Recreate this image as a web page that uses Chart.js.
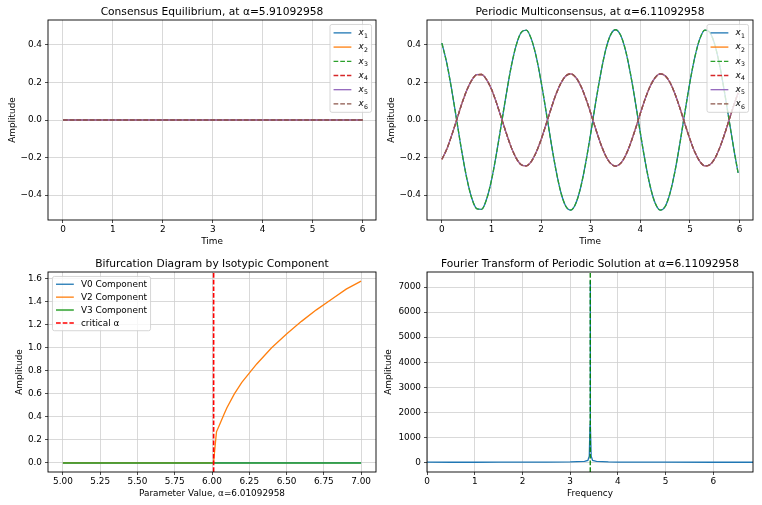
<!DOCTYPE html>
<html lang="en">
<head>
<meta charset="UTF-8">
<title>Isotypic Bifurcation</title>
<script src="https://cdn.jsdelivr.net/npm/chart.js"></script>
<style>
  body { margin: 0; background: #fff; }
  #fig { position: relative; width: 762px; height: 505px; }
  canvas { position: absolute; }
</style>
</head>
<body>
<div id="fig">
  <canvas id="consensus" width="381" height="252" style="left:0;top:0"></canvas>
  <canvas id="periodic" width="381" height="252" style="left:381px;top:0"></canvas>
  <canvas id="bifurcation" width="381" height="253" style="left:0;top:252px"></canvas>
  <canvas id="fourier" width="381" height="253" style="left:381px;top:252px"></canvas>
</div>
<script>
// --- data ---
const consensusTime = [0, 1, 2, 3, 4, 5, 6];
const consensusState = [0, 0, 0, 0, 0, 0, 0];

const periodicTime = [0.0, 0.1, 0.2, 0.3, 0.4, 0.5, 0.6, 0.7, 0.8, 0.9,
  1.0, 1.1, 1.2, 1.3, 1.4, 1.5, 1.6, 1.7, 1.8, 1.9,
  2.0, 2.1, 2.2, 2.3, 2.4, 2.5, 2.6, 2.7, 2.8, 2.9,
  3.0, 3.1, 3.2, 3.3, 3.4, 3.5, 3.6, 3.7, 3.8, 3.9,
  4.0, 4.1, 4.2, 4.3, 4.4, 4.5, 4.6, 4.7, 4.8, 4.9,
  5.0, 5.1, 5.2, 5.3, 5.4, 5.5, 5.6, 5.7, 5.8, 5.9, 5.97];
// x1 and x3 coincide
const periodicX1 = [0.409, 0.301, 0.157, -0.004, -0.166, -0.308, -0.414, -0.471, -0.475, -0.422,
  -0.320, -0.179, -0.020, 0.141, 0.288, 0.400, 0.466, 0.478, 0.433, 0.338,
  0.203, 0.045, -0.118, -0.268, -0.387, -0.460, -0.479, -0.443, -0.355, -0.226,
  -0.070, 0.094, 0.246, 0.372, 0.453, 0.480, 0.452, 0.372, 0.247, 0.094,
  -0.070, -0.225, -0.355, -0.443, -0.479, -0.460, -0.387, -0.269, -0.119, 0.045,
  0.203, 0.337, 0.433, 0.478, 0.466, 0.401, 0.288, 0.142, -0.020, -0.180, -0.282];
// x2, x4, x5 and x6 coincide
const periodicX2 = [-0.209, -0.154, -0.080, 0.002, 0.085, 0.157, 0.211, 0.241, 0.242, 0.215,
  0.163, 0.091, 0.010, -0.072, -0.147, -0.204, -0.238, -0.244, -0.221, -0.172,
  -0.104, -0.023, 0.060, 0.137, 0.197, 0.235, 0.245, 0.226, 0.181, 0.115,
  0.036, -0.048, -0.126, -0.190, -0.231, -0.245, -0.231, -0.190, -0.126, -0.048,
  0.036, 0.115, 0.181, 0.226, 0.245, 0.235, 0.198, 0.137, 0.061, -0.023,
  -0.103, -0.172, -0.221, -0.244, -0.238, -0.205, -0.147, -0.073, 0.010, 0.092, 0.144];

const alphaValues = [5.0, 5.5, 6.0, 6.01, 6.03, 6.05, 6.08, 6.1, 6.15, 6.2, 6.25, 6.3, 6.4, 6.5, 6.6, 6.7, 6.8, 6.9, 7.0];
const v0Amp = [0, 0, 0, 0, 0, 0, 0, 0, 0, 0, 0, 0, 0, 0, 0, 0, 0, 0, 0];
const v2Amp = [0, 0, 0, 0, 0.27, 0.33, 0.42, 0.48, 0.60, 0.70, 0.78, 0.86, 1.00, 1.12, 1.23, 1.33, 1.42, 1.51, 1.58];
const v3Amp = [0, 0, 0, 0, 0, 0, 0, 0, 0, 0, 0, 0, 0, 0, 0, 0, 0, 0, 0];
const criticalAlpha = 6.01092958;

const fftFreq = [0, 0.5, 1, 1.5, 2, 2.5, 3, 3.3, 3.37, 3.4, 3.415, 3.42, 3.425, 3.44, 3.47, 3.55, 3.8, 4, 5, 6, 6.83];
const fftAmp = [15, 10, 10, 12, 15, 18, 22, 40, 80, 250, 1500, 7250, 1500, 250, 80, 40, 22, 18, 12, 10, 10];
const peakFreq = 3.42;

const timeTicks = [0, 1, 2, 3, 4, 5, 6];
const stateTicks = [-0.4, -0.2, 0, 0.2, 0.4];
const alphaTicks = [5, 5.25, 5.5, 5.75, 6, 6.25, 6.5, 6.75, 7];
const bifTicks = [0, 0.2, 0.4, 0.6, 0.8, 1.0, 1.2, 1.4, 1.6];
const freqTicks = [0, 1, 2, 3, 4, 5, 6];
const fftTicks = [0, 1000, 2000, 3000, 4000, 5000, 6000, 7000];

// --- drawing ---
const FS = 8.9;
Chart.defaults.font.family = '"DejaVu Sans", sans-serif';
Chart.defaults.font.size = FS;
Chart.defaults.color = '#000';

const C = { blue: '#1f77b4', orange: '#ff7f0e', green: '#2ca02c', red: '#d62728', purple: '#9467bd', brown: '#8c564b' };
const LW = 1.3, DASH = [4.7, 2];

function pts(xs, ys) { return xs.map((x, i) => ({ x, y: ys[i] })); }

function series(label, xs, ys, color, dashed, width, smooth) {
  return {
    label, data: pts(xs, ys), borderColor: color, borderWidth: width || LW,
    borderDash: dashed ? DASH : [], pointRadius: 0, fill: false,
    cubicInterpolationMode: smooth ? 'monotone' : 'default', tension: 0
  };
}

// chart.js paints dataset 0 last; flip that so later series sit on top like matplotlib
function stack(list) { list.forEach((d, i) => { d.order = -i; }); return list; }

function fmt(v, d) { return v.toFixed(d).replace('-', '\u2212'); }

function linearAxis(o) {
  const horiz = o.axis === 'x';
  return {
    type: 'linear', position: horiz ? 'bottom' : 'left',
    min: o.min, max: o.max,
    afterBuildTicks: s => { s.ticks = o.ticks.map(v => ({ value: v })); },
    afterFit: s => { if (horiz) s.height = o.size; else s.width = o.size; },
    ticks: { autoSkip: false, maxRotation: 0, padding: horiz ? 1.5 : 3, callback: v => fmt(v, o.dec) },
    grid: { color: '#cfcfcf', lineWidth: 0.8, tickLength: 3, tickColor: '#222', tickWidth: 0.8 },
    border: { display: false },
    title: { display: true, text: o.title, padding: horiz ? { top: 0, bottom: o.pad } : { top: o.pad, bottom: 0 } }
  };
}

const framePlugin = {
  id: 'frame',
  afterDatasetsDraw(chart) {
    const { ctx, chartArea: a } = chart;
    ctx.save();
    ctx.strokeStyle = '#000';
    ctx.lineWidth = 0.9;
    ctx.strokeRect(a.left, a.top, a.right - a.left, a.bottom - a.top);
    ctx.restore();
  },
  afterDraw(chart, args, opts) {
    const { ctx, chartArea: a } = chart;
    ctx.save();
    ctx.font = (FS * 1.2) + 'px "DejaVu Sans"';
    ctx.fillStyle = '#000';
    ctx.textAlign = 'center';
    ctx.textBaseline = 'alphabetic';
    ctx.fillText(opts.title, (a.left + a.right) / 2, a.top - 4.6);
    ctx.restore();
  }
};

function drawLabel(ctx, label, x, cy, fs) {
  ctx.fillStyle = '#000';
  ctx.textAlign = 'left';
  ctx.textBaseline = 'alphabetic';
  const m = label.match(/^(\w)_(\d)$/);
  if (m) {
    ctx.font = 'italic ' + fs + 'px "DejaVu Sans"';
    ctx.fillText(m[1], x, cy + 2.4);
    const w = ctx.measureText(m[1]).width;
    ctx.font = (fs * 0.7) + 'px "DejaVu Sans"';
    ctx.fillText(m[2], x + w + 0.3, cy + 4.7);
  } else {
    ctx.font = fs + 'px "DejaVu Sans"';
    ctx.fillText(label, x, cy + 3.2);
  }
}

function labelWidth(ctx, label, fs) {
  const m = label.match(/^(\w)_(\d)$/);
  if (m) {
    ctx.font = 'italic ' + fs + 'px "DejaVu Sans"';
    const w = ctx.measureText(m[1]).width + 0.3;
    ctx.font = (fs * 0.7) + 'px "DejaVu Sans"';
    return w + ctx.measureText(m[2]).width;
  }
  ctx.font = fs + 'px "DejaVu Sans"';
  return ctx.measureText(label).width;
}

function roundBox(ctx, x, y, w, h, r) {
  ctx.beginPath();
  ctx.moveTo(x + r, y);
  ctx.arcTo(x + w, y, x + w, y + h, r);
  ctx.arcTo(x + w, y + h, x, y + h, r);
  ctx.arcTo(x, y + h, x, y, r);
  ctx.arcTo(x, y, x + w, y, r);
  ctx.closePath();
}

const keyPlugin = {
  id: 'keyBox',
  afterDraw(chart, args, opts) {
    const { ctx, chartArea: a } = chart;
    const fs = FS, pad = 0.4 * fs, hl = 2 * fs, htp = 0.8 * fs, gap = 0.5 * fs, rowH = opts.rowH;
    const items = chart.data.datasets.filter(d => d.label);
    ctx.save();
    const tw = Math.max(...items.map(d => labelWidth(ctx, d.label, fs)));
    const w = 2 * pad + hl + htp + tw;
    const h = 2 * pad + items.length * rowH + (items.length - 1) * gap;
    const x = opts.corner === 'left' ? a.left + gap : a.right - gap - w;
    const y = a.top + gap;
    roundBox(ctx, x, y, w, h, 2);
    ctx.fillStyle = 'rgba(255,255,255,0.8)';
    ctx.fill();
    ctx.strokeStyle = '#cccccc';
    ctx.lineWidth = 0.8;
    ctx.stroke();
    items.forEach((d, i) => {
      const cy = y + pad + i * (rowH + gap) + rowH / 2;
      ctx.beginPath();
      ctx.setLineDash(d.borderDash || []);
      ctx.strokeStyle = d.borderColor;
      ctx.lineWidth = d.borderWidth;
      ctx.moveTo(x + pad, cy);
      ctx.lineTo(x + pad + hl, cy);
      ctx.stroke();
      ctx.setLineDash([]);
      drawLabel(ctx, d.label, x + pad + hl + htp, cy, fs);
    });
    ctx.restore();
  }
};

function makeChart(id, cfg) {
  return new Chart(document.getElementById(id), {
    type: 'line',
    data: { datasets: stack(cfg.datasets) },
    options: {
      responsive: false,
      animation: false,
      layout: { padding: { top: 20, right: cfg.right, bottom: 0, left: 0 } },
      scales: { x: linearAxis(cfg.x), y: linearAxis(cfg.y) },
      plugins: {
        legend: { display: false },
        tooltip: { enabled: false },
        frame: { title: cfg.title },
        keyBox: cfg.key || false
      }
    },
    plugins: [framePlugin, keyPlugin]
  });
}

const stateMin = -0.532, stateMax = 0.532;

makeChart('consensus', {
  title: 'Consensus Equilibrium, at α=5.91092958',
  right: 5,
  datasets: [
    series('x_1', consensusTime, consensusState, C.blue, false),
    series('x_2', consensusTime, consensusState, C.orange, false),
    series('x_3', consensusTime, consensusState, C.green, true),
    series('x_4', consensusTime, consensusState, C.red, true),
    series('x_5', consensusTime, consensusState, C.purple, false),
    series('x_6', consensusTime, consensusState, C.brown, true)
  ],
  x: { axis: 'x', min: -0.3, max: 6.27, ticks: timeTicks, dec: 0, title: 'Time', pad: 5, size: 32 },
  y: { axis: 'y', min: stateMin, max: stateMax, ticks: stateTicks, dec: 1, title: 'Amplitude', pad: 7, size: 48 },
  key: { corner: 'right', rowH: 9.75 }
});

makeChart('periodic', {
  title: 'Periodic Multiconsensus, at α=6.11092958',
  right: 9,
  datasets: [
    series('x_1', periodicTime, periodicX1, C.blue, false, LW, true),
    series('x_2', periodicTime, periodicX2, C.orange, false, LW, true),
    series('x_3', periodicTime, periodicX1, C.green, true, LW, true),
    series('x_4', periodicTime, periodicX2, C.red, true, LW, true),
    series('x_5', periodicTime, periodicX2, C.purple, false, LW, true),
    series('x_6', periodicTime, periodicX2, C.brown, true, LW, true)
  ],
  x: { axis: 'x', min: -0.3, max: 6.27, ticks: timeTicks, dec: 0, title: 'Time', pad: 5, size: 32 },
  y: { axis: 'y', min: stateMin, max: stateMax, ticks: stateTicks, dec: 1, title: 'Amplitude', pad: 5.2, size: 46 },
  key: { corner: 'right', rowH: 9.75 }
});

const bifMin = -0.079, bifMax = 1.659;
makeChart('bifurcation', {
  title: 'Bifurcation Diagram by Isotypic Component',
  right: 5,
  datasets: [
    series('V0 Component', alphaValues, v0Amp, C.blue, false),
    series('V2 Component', alphaValues, v2Amp, C.orange, false),
    series('V3 Component', alphaValues, v3Amp, 'rgba(44,160,44,0.75)', false, 2),
    series('critical α', [criticalAlpha, criticalAlpha], [bifMin, bifMax], '#ff0000', true, 1.6)
  ],
  x: { axis: 'x', min: 4.9, max: 7.1, ticks: alphaTicks, dec: 2, title: 'Parameter Value, α=6.01092958', pad: 6.2, size: 33 },
  y: { axis: 'y', min: bifMin, max: bifMax, ticks: bifTicks, dec: 1, title: 'Amplitude', pad: 14.5, size: 48 },
  key: { corner: 'left', rowH: 8.45 }
});

const fftMin = -380, fftMax = 7600;
makeChart('fourier', {
  title: 'Fourier Transform of Periodic Solution at α=6.11092958',
  right: 9,
  datasets: [
    series('', fftFreq, fftAmp, C.blue, false),
    series('', [peakFreq, peakFreq], [fftMin, fftMax], '#008000', true)
  ],
  x: { axis: 'x', min: 0, max: 6.83, ticks: freqTicks, dec: 0, title: 'Frequency', pad: 6.2, size: 33 },
  y: { axis: 'y', min: fftMin, max: fftMax, ticks: fftTicks, dec: 0, title: 'Amplitude', pad: 2, size: 46 }
});
</script>
</body>
</html>
